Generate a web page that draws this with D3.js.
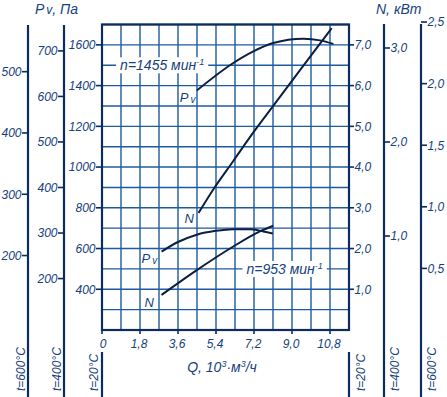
<!DOCTYPE html>
<html>
<head>
<meta charset="utf-8">
<script src="https://cdn.jsdelivr.net/npm/d3@7"></script>
<style>
    body { margin: 0; background: #fff; }
    text { font-family: "Liberation Sans", Arial, sans-serif; font-style: italic; fill: #163f7c; }
</style>
</head>
<body>
<div id="chart"></div>
<script>
// axis values
let qTicks = [0, 1.8, 3.6, 5.4, 7.2, 9.0, 10.8];
let pvTicks20 = [400, 600, 800, 1000, 1200, 1400, 1600];
let pvTicks400 = [200, 300, 400, 500, 600, 700];
let pvTicks600 = [200, 300, 400, 500];
let nTicks20 = [1, 2, 3, 4, 5, 6, 7];
let nTicks400 = [1, 2, 3];
let nTicks600 = [0.5, 1, 1.5, 2, 2.5];

// n = 1455 min-1
let q1455Pv = [4.49, 6.22, 7.17, 8.11, 9.54, 10.33, 10.96];
let pv1455 = [1376, 1511, 1568, 1609, 1630, 1622, 1604];
let q1455N = [4.57, 5.27, 6.22, 7.17, 8.11, 9.38, 10.88];
let n1455 = [2.87, 3.45, 4.15, 4.85, 5.5, 6.38, 7.41];

// n = 953 min-1
let q953Pv = [2.82, 3.6, 4.49, 5.4, 6.22, 7.01, 7.64, 8.09];
let pv953 = [585, 632, 668, 687, 695, 695, 684, 674];
let q953N = [2.82, 4.49, 6.22, 7.48, 8.11];
let n953 = [0.86, 1.47, 2.05, 2.42, 2.56];

const W = 447, H = 397;
const gridCol = '#1c5b9c', axisCol = '#0c2c5e', curveCol = '#0b1f45';

let svg = d3.select('#chart').append('svg')
    .attr('width', W).attr('height', H);

let x = d3.scaleLinear().domain([0, 11.7]).range([102, 349]);
let yPv = d3.scaleLinear().domain([200, 1700]).range([330, 24.5]);
let yN = d3.scaleLinear().domain([0, 7.5]).range([330, 24.5]);
// hot gas scales
let yPv400 = d3.scaleLinear().domain([87, 758]).range([330, 24.5]);
let yPv600 = d3.scaleLinear().domain([78.5, 577]).range([330, 24.5]);
let yN400 = d3.scaleLinear().domain([0, 3.25]).range([330, 24.5]);
let yN600 = d3.scaleLinear().domain([0, 2.48]).range([330, 24.5]);

let fmt = d => d3.format('.1f')(d).replace('.', ',');

//GRID
let grid = svg.append('g');
grid.selectAll('.vgrid')
    .data(d3.range(0, 11.71, 0.9))
    .join('line')
    .attr('x1', d => x(d)).attr('x2', d => x(d))
    .attr('y1', yPv(200)).attr('y2', yPv(1700))
    .attr('stroke', gridCol).attr('stroke-width', 1.4);
grid.selectAll('.hgrid')
    .data(d3.range(200, 1701, 100))
    .join('line')
    .attr('x1', x(0)).attr('x2', x(11.7))
    .attr('y1', d => yPv(d)).attr('y2', d => yPv(d))
    .attr('stroke', gridCol).attr('stroke-width', 1.4);

grid.append('rect')
    .attr('x', x(0)).attr('y', yPv(1700))
    .attr('width', x(11.7) - x(0)).attr('height', yPv(200) - yPv(1700))
    .attr('fill', 'none').attr('stroke', axisCol).attr('stroke-width', 2.2);

//AXES
// side = -1 for left, 1 for right
function vAxis(ax, scale, ticks, side, y1, label, fmtFn){
    let g = svg.append('g');
    g.append('line')
        .attr('x1', ax).attr('x2', ax)
        .attr('y1', y1).attr('y2', H)
        .attr('stroke', axisCol).attr('stroke-width', 2.2);
    g.selectAll('.tk')
        .data(ticks)
        .join('line')
        .attr('x1', ax).attr('x2', ax + side * 6)
        .attr('y1', d => scale(d)).attr('y2', d => scale(d))
        .attr('stroke', axisCol).attr('stroke-width', 1.6);
    g.selectAll('.tl')
        .data(ticks)
        .join('text')
        .attr('x', ax + side * 6.5)
        .attr('y', d => scale(d))
        .attr('dy', '0.36em')
        .attr('text-anchor', side < 0 ? 'end' : 'start')
        .style('font-size', '12px')
        .text(fmtFn);
    let lx = side < 0 ? ax - 3 : ax + 15;
    g.append('text')
        .attr('transform', `translate(${lx}, 391) rotate(-90)`)
        .style('font-size', '12px')
        .text(label);
}

vAxis(28, yPv600, pvTicks600, -1, 25, 't=600°C', d => d);
vAxis(64, yPv400, pvTicks400, -1, 25, 't=400°C', d => d);
vAxis(384, yN400, nTicks400, 1, 24, 't=400°C', fmt);
vAxis(421, yN600, nTicks600, 1, 24, 't=600°C', fmt);

// 20°C scales sit on the grid box
let left20 = svg.append('g');
left20.selectAll('line')
    .data(pvTicks20)
    .join('line')
    .attr('x1', x(0) - 6).attr('x2', x(0))
    .attr('y1', d => yPv(d)).attr('y2', d => yPv(d))
    .attr('stroke', axisCol).attr('stroke-width', 1.6);
left20.selectAll('text')
    .data(pvTicks20)
    .join('text')
    .attr('x', x(0) - 6.5).attr('y', d => yPv(d)).attr('dy', '0.36em')
    .attr('text-anchor', 'end').style('font-size', '12px')
    .text(d => d);

let right20 = svg.append('g');
right20.selectAll('line')
    .data(nTicks20)
    .join('line')
    .attr('x1', x(11.7)).attr('x2', x(11.7) + 5)
    .attr('y1', d => yN(d)).attr('y2', d => yN(d))
    .attr('stroke', axisCol).attr('stroke-width', 1.6);
right20.selectAll('text')
    .data(nTicks20)
    .join('text')
    .attr('x', x(11.7) + 5.5).attr('y', d => yN(d)).attr('dy', '0.36em')
    .style('font-size', '12px')
    .text(fmt);

[x(0), x(11.7)].forEach((ax, i) => {
    svg.append('line')
        .attr('x1', ax).attr('x2', ax).attr('y1', 352).attr('y2', H)
        .attr('stroke', axisCol).attr('stroke-width', 2.2);
    let lx = i == 0 ? ax - 4 : ax + 16;
    svg.append('text')
        .attr('transform', `translate(${lx}, 391) rotate(-90)`)
        .style('font-size', '12px')
        .text('t=20°C');
});

// x axis
let xa = svg.append('g');
xa.selectAll('line')
    .data(qTicks)
    .join('line')
    .attr('x1', d => x(d)).attr('x2', d => x(d))
    .attr('y1', yPv(200)).attr('y2', yPv(200) + 4)
    .attr('stroke', axisCol).attr('stroke-width', 1.6);
xa.selectAll('text')
    .data(qTicks)
    .join('text')
    .attr('x', d => x(d) - (d == 0 ? -1 : 1))
    .attr('y', 348)
    .attr('text-anchor', 'middle')
    .style('font-size', '12px')
    .text(d => d == 0 ? '0' : fmt(d));

let qLab = svg.append('text')
    .attr('x', 222).attr('y', 372)
    .attr('text-anchor', 'middle')
    .style('font-size', '14px');
qLab.append('tspan').text('Q, 10');
qLab.append('tspan').attr('dy', -5).style('font-size', '9px').text('3');
qLab.append('tspan').attr('dy', 5).text('·м');
qLab.append('tspan').attr('dy', -5).style('font-size', '9px').text('3');
qLab.append('tspan').attr('dy', 5).text('/ч');

// titles
let pvTitle = svg.append('text').attr('x', 35).attr('y', 14).style('font-size', '14px');
pvTitle.append('tspan').text('P');
pvTitle.append('tspan').attr('dx', 2).style('font-size', '12px').text('v');
pvTitle.append('tspan').text(', Па');
svg.append('text').attr('x', 376).attr('y', 14).style('font-size', '14px').text('N, кВт');

//CURVES
let lineP = d3.line().x(d => x(d[0])).y(d => yPv(d[1])).curve(d3.curveMonotoneX);
let lineN = d3.line().x(d => x(d[0])).y(d => yN(d[1])).curve(d3.curveMonotoneX);

let curves = [
    {d: d3.zip(q1455Pv, pv1455), f: lineP},
    {d: d3.zip(q1455N, n1455), f: lineN},
    {d: d3.zip(q953Pv, pv953), f: lineP},
    {d: d3.zip(q953N, n953), f: lineN}
];
svg.append('g').selectAll('path')
    .data(curves)
    .join('path')
    .attr('d', c => c.f(c.d))
    .attr('fill', 'none')
    .attr('stroke', curveCol)
    .attr('stroke-width', 2);

//LABELS
function speedLabel(cx, cy, n){
    let g = svg.append('g');
    let bg = g.append('rect').attr('fill', '#fff');
    let t = g.append('text')
        .attr('x', cx).attr('y', cy).attr('dy', '0.36em')
        .attr('text-anchor', 'middle')
        .style('font-size', '14px');
    t.append('tspan').text('n=' + n + ' мин');
    t.append('tspan').attr('dy', -5).style('font-size', '9px').text('-1');
    let bb = t.node().getBBox();
    bg.attr('x', bb.x - 4).attr('y', bb.y).attr('width', bb.width + 8).attr('height', bb.height);
}
speedLabel(x(2.85), yPv(1500), 1455);
speedLabel(x(8.65), yPv(500), 953);

function curveLabel(px, py, main, sub){
    let t = svg.append('text')
        .attr('x', px).attr('y', py)
        .style('font-size', '13px');
    t.append('tspan').text(main);
    if(sub) t.append('tspan').attr('dx', 2).attr('dy', 1).style('font-size', '10px').text(sub);
}
curveLabel(x(q1455Pv[0]) - 17, yPv(pv1455[0]) + 12, 'P', 'v');
curveLabel(x(q1455N[0]) - 14, yN(n1455[0]) + 10, 'N');
curveLabel(x(q953Pv[0]) - 20, yPv(pv953[0]) + 11, 'P', 'v');
curveLabel(x(q953N[0]) - 17, yN(n953[0]) + 12, 'N');
</script>
</body>
</html>
